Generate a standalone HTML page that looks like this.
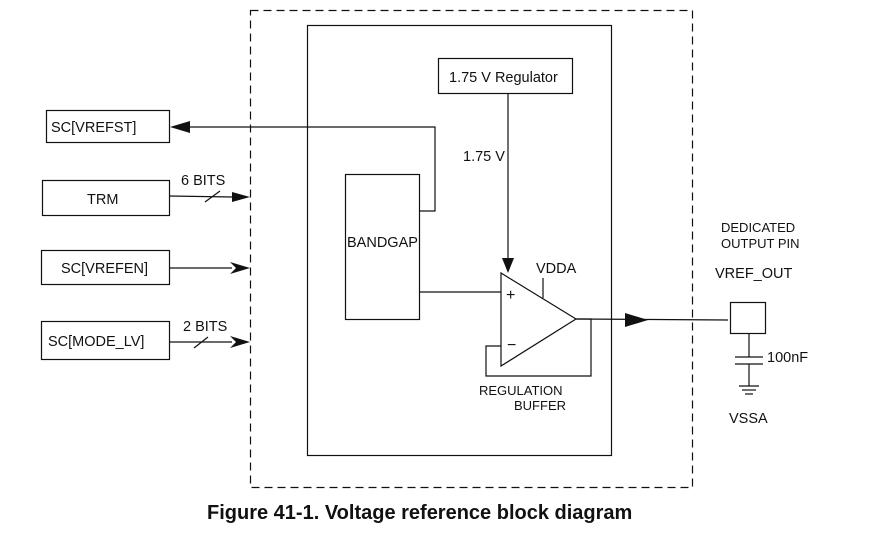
<!DOCTYPE html>
<html><head><style>body{margin:0;background:#fff}svg{display:block}text{font-family:"Liberation Sans",sans-serif;font-size:14.5px;fill:#111}</style></head><body>
<svg width="882" height="548" viewBox="0 0 882 548" xmlns="http://www.w3.org/2000/svg">
<g fill="none" stroke="#111" stroke-width="1.2">
<rect x="250.5" y="10.5" width="442" height="477" stroke-dasharray="8,5"/>
<rect x="307.5" y="25.5" width="304" height="430"/>
<rect x="438.5" y="58.5" width="134" height="35"/>
<rect x="345.5" y="174.5" width="74" height="145"/>
<rect x="46.5" y="110.5" width="123" height="32"/>
<rect x="42.5" y="180.5" width="127" height="35"/>
<rect x="41.5" y="250.5" width="128" height="34"/>
<rect x="41.5" y="321.5" width="128" height="38"/>
<polyline points="419,211 435,211 435,127 190,127"/>
<line x1="508" y1="93" x2="508" y2="262"/>
<polygon points="501,273 501,366 576,319"/>
<line x1="419" y1="292" x2="501" y2="292"/>
<line x1="543" y1="278" x2="543" y2="298"/>
<polyline points="576,319 591,319 591,376 486,376 486,346 501,346"/>
<line x1="576" y1="319" x2="728" y2="320"/>
<rect x="730.5" y="302.5" width="35" height="31"/>
<line x1="749" y1="334" x2="749" y2="357"/>
<line x1="735" y1="357" x2="763" y2="357"/>
<line x1="735" y1="364" x2="763" y2="364"/>
<line x1="749" y1="364" x2="749" y2="386"/>
<line x1="739" y1="386" x2="759" y2="386"/>
<line x1="742" y1="390" x2="756" y2="390"/>
<line x1="745" y1="394" x2="753" y2="394"/>
<line x1="169" y1="196" x2="232" y2="197"/>
<line x1="205" y1="202" x2="220" y2="191"/>
<line x1="169" y1="268" x2="232" y2="268"/>
<line x1="169" y1="342" x2="232" y2="342"/>
<line x1="194" y1="348" x2="208" y2="337"/>
</g>
<g fill="#111">
<polygon points="170,127 190,121 190,133"/>
<polygon points="250,197 232,192 232,202"/>
<polygon points="250,268 230,262 236,268 230,274"/>
<polygon points="250,342 230,336 236,342 230,348"/>
<polygon points="508,273 502,258 514,258"/>
<polygon points="648,320 625,313 625,327"/>
</g>
<text x="51" y="132">SC[VREFST]</text>
<text x="87" y="204">TRM</text>
<text x="61" y="273">SC[VREFEN]</text>
<text x="48" y="346">SC[MODE_LV]</text>
<text x="181" y="185">6 BITS</text>
<text x="183" y="331">2 BITS</text>
<text x="449" y="82">1.75 V Regulator</text>
<text x="463" y="161">1.75 V</text>
<text x="347" y="247">BANDGAP</text>
<text x="536" y="273">VDDA</text>
<text x="506" y="300" style="font-size:16px">+</text>
<text x="507" y="350" style="font-size:16px">−</text>
<text x="479" y="395" style="font-size:13px">REGULATION</text>
<text x="514" y="410" style="font-size:13px">BUFFER</text>
<text x="721" y="232" style="font-size:13px">DEDICATED</text>
<text x="721" y="248" style="font-size:13px">OUTPUT PIN</text>
<text x="715" y="278">VREF_OUT</text>
<text x="767" y="362">100nF</text>
<text x="729" y="423">VSSA</text>
<text x="207" y="519" style="font-size:20px;font-weight:bold">Figure 41-1. Voltage reference block diagram</text>
</svg>
</body></html>
